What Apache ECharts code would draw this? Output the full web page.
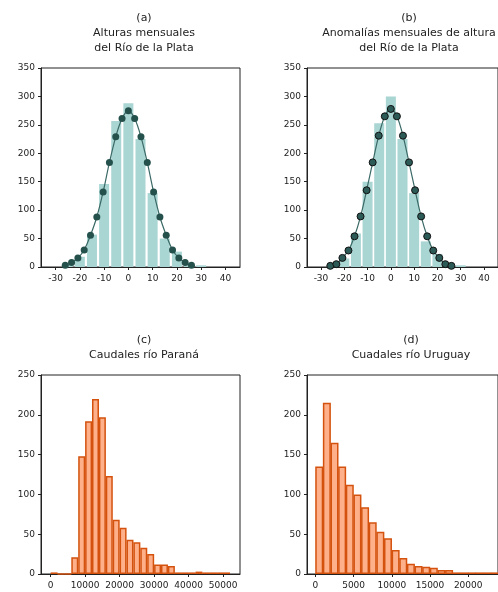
<!DOCTYPE html>
<html>
<head>
<meta charset="utf-8">
<script src="https://cdn.jsdelivr.net/npm/echarts@6/dist/echarts.min.js"></script>
<style>
  html, body { margin: 0; padding: 0; background: #fff; }
  #chart { width: 498px; height: 592px; }
</style>
</head>
<body>
<div id="chart"></div>
<script>
// (a) alturas mensuales - histograma y curva normal
var binsA = [-25, -20, -15, -10, -5, 0, 5, 10, 15, 20, 25, 30];
var countsA = [5, 18, 57, 146, 257, 288, 225, 130, 50, 27, 6, 3];
var curveX = [-26, -23.4, -20.8, -18.2, -15.6, -13, -10.4, -7.8, -5.2, -2.6, 0,
  2.6, 5.2, 7.8, 10.4, 13, 15.6, 18.2, 20.8, 23.4, 26];
var curveA = [3, 8, 16, 30, 56, 88, 132, 184, 229, 261, 275,
  261, 229, 184, 132, 88, 56, 30, 16, 8, 3];

// (b) anomalias mensuales
var binsB = [-25, -20, -15, -10, -5, 0, 5, 10, 15, 20, 25, 30];
var countsB = [4, 15, 59, 150, 253, 300, 225, 130, 45, 23, 5, 3];
var curveB = [2, 5, 16, 29, 54, 89, 135, 184, 231, 265, 278,
  265, 231, 184, 135, 89, 54, 29, 16, 5, 2];

// (c) caudales Parana, clases de 2000
var binsC = [1000, 3000, 5000, 7000, 9000, 11000, 13000, 15000, 17000, 19000, 21000,
  23000, 25000, 27000, 29000, 31000, 33000, 35000, 37000, 39000, 41000, 43000,
  45000, 47000, 49000, 51000];
var countsC = [2, 0, 0, 21, 148, 192, 220, 197, 123, 68, 58,
  43, 40, 33, 25, 12, 12, 10, 2, 2, 2, 3,
  2, 2, 2, 2];

// (d) caudales Uruguay, clases de 1000
var binsD = [500, 1500, 2500, 3500, 4500, 5500, 6500, 7500, 8500, 9500, 10500, 11500,
  12500, 13500, 14500, 15500, 16500, 17500, 18500, 19500, 20500, 21500, 22500, 23500];
var countsD = [135, 215, 165, 135, 112, 100, 84, 65, 53, 45, 30, 20,
  13, 10, 9, 8, 5, 5, 2, 2, 2, 2, 2, 2];

var ticksAB = [-30, -20, -10, 0, 10, 20, 30, 40];
var ticksC = [0, 10000, 20000, 30000, 40000, 50000];
var ticksD = [0, 5000, 10000, 15000, 20000];

var chart = echarts.init(document.getElementById('chart'), null, { renderer: 'canvas' });

var axisColor = '#222';
var font = 'DejaVu Sans';

function pairs(xs, ys) {
  return xs.map(function (x, i) { return [x, ys[i]]; });
}

function xAxisOf(idx, min, max, ticks) {
  return {
    type: 'value', gridIndex: idx, min: min, max: max,
    splitLine: { show: false },
    axisLine: { onZero: false, lineStyle: { color: axisColor, width: 1 } },
    axisTick: { show: true, length: 3, customValues: ticks, lineStyle: { color: axisColor } },
    axisLabel: {
      customValues: ticks, color: '#222', fontSize: 9, fontFamily: font, margin: 7,
      formatter: function (v) { return String(v); }
    }
  };
}

function yAxisOf(idx, max) {
  return {
    type: 'value', gridIndex: idx, min: 0, max: max, interval: 50,
    splitLine: { show: false },
    axisLine: { show: true, onZero: false, lineStyle: { color: axisColor, width: 1 } },
    axisTick: { show: true, length: 3, lineStyle: { color: axisColor } },
    axisLabel: { color: '#222', fontSize: 9, fontFamily: font, margin: 6 }
  };
}

var titleStyle = { color: '#222', fontSize: 11, fontWeight: 'normal', fontFamily: font, lineHeight: 15 };

var option = {
  animation: false,
  backgroundColor: '#fff',
  title: [
    { text: '(a)\nAlturas mensuales\ndel Río de la Plata', left: 139, top: 6, textAlign: 'center', textStyle: titleStyle },
    { text: '(b)\nAnomalías mensuales de altura\ndel Río de la Plata', left: 404, top: 6, textAlign: 'center', textStyle: titleStyle },
    { text: '(c)\nCaudales río Paraná', left: 139, top: 328, textAlign: 'center', textStyle: titleStyle },
    { text: '(d)\nCuadales río Uruguay', left: 406, top: 328, textAlign: 'center', textStyle: titleStyle }
  ],
  grid: [
    { left: 41, top: 68, width: 199, height: 199, show: true, borderColor: axisColor, borderWidth: 1 },
    { left: 307, top: 68, width: 200, height: 199, show: true, borderColor: axisColor, borderWidth: 1 },
    { left: 41, top: 375, width: 199, height: 199, show: true, borderColor: axisColor, borderWidth: 1 },
    { left: 307, top: 375, width: 200, height: 199, show: true, borderColor: axisColor, borderWidth: 1 }
  ],
  xAxis: [
    xAxisOf(0, -36, 46, ticksAB),
    xAxisOf(1, -36, 46, ticksAB),
    xAxisOf(2, -2800, 54900, ticksC),
    xAxisOf(3, -1100, 23900, ticksD)
  ],
  yAxis: [
    yAxisOf(0, 350),
    yAxisOf(1, 350),
    yAxisOf(2, 250),
    yAxisOf(3, 250)
  ],
  series: [
    {
      type: 'bar', xAxisIndex: 0, yAxisIndex: 0, barWidth: 10,
      itemStyle: { color: '#a9d5d3' },
      data: pairs(binsA, countsA)
    },
    {
      type: 'line', xAxisIndex: 0, yAxisIndex: 0, smooth: 0.3,
      symbol: 'circle', symbolSize: 7,
      lineStyle: { color: '#3a6966', width: 1.2 },
      itemStyle: { color: '#25514d' },
      data: pairs(curveX, curveA)
    },
    {
      type: 'bar', xAxisIndex: 1, yAxisIndex: 1, barWidth: 10,
      itemStyle: { color: '#a9d5d3' },
      data: pairs(binsB, countsB)
    },
    {
      type: 'line', xAxisIndex: 1, yAxisIndex: 1, smooth: 0.3,
      symbol: 'circle', symbolSize: 7,
      lineStyle: { color: '#3a6966', width: 1.2 },
      itemStyle: { color: '#2c5a56', borderColor: '#111', borderWidth: 1 },
      data: pairs(curveX, curveB)
    },
    {
      type: 'bar', xAxisIndex: 2, yAxisIndex: 2, barWidth: 7,
      itemStyle: { color: '#fdb08a', borderColor: '#d4520e', borderWidth: 1.5 },
      data: pairs(binsC, countsC)
    },
    {
      type: 'bar', xAxisIndex: 3, yAxisIndex: 3, barWidth: 8,
      itemStyle: { color: '#fdb08a', borderColor: '#d4520e', borderWidth: 1.5 },
      data: pairs(binsD, countsD)
    }
  ]
};

chart.setOption(option);
</script>
</body>
</html>
